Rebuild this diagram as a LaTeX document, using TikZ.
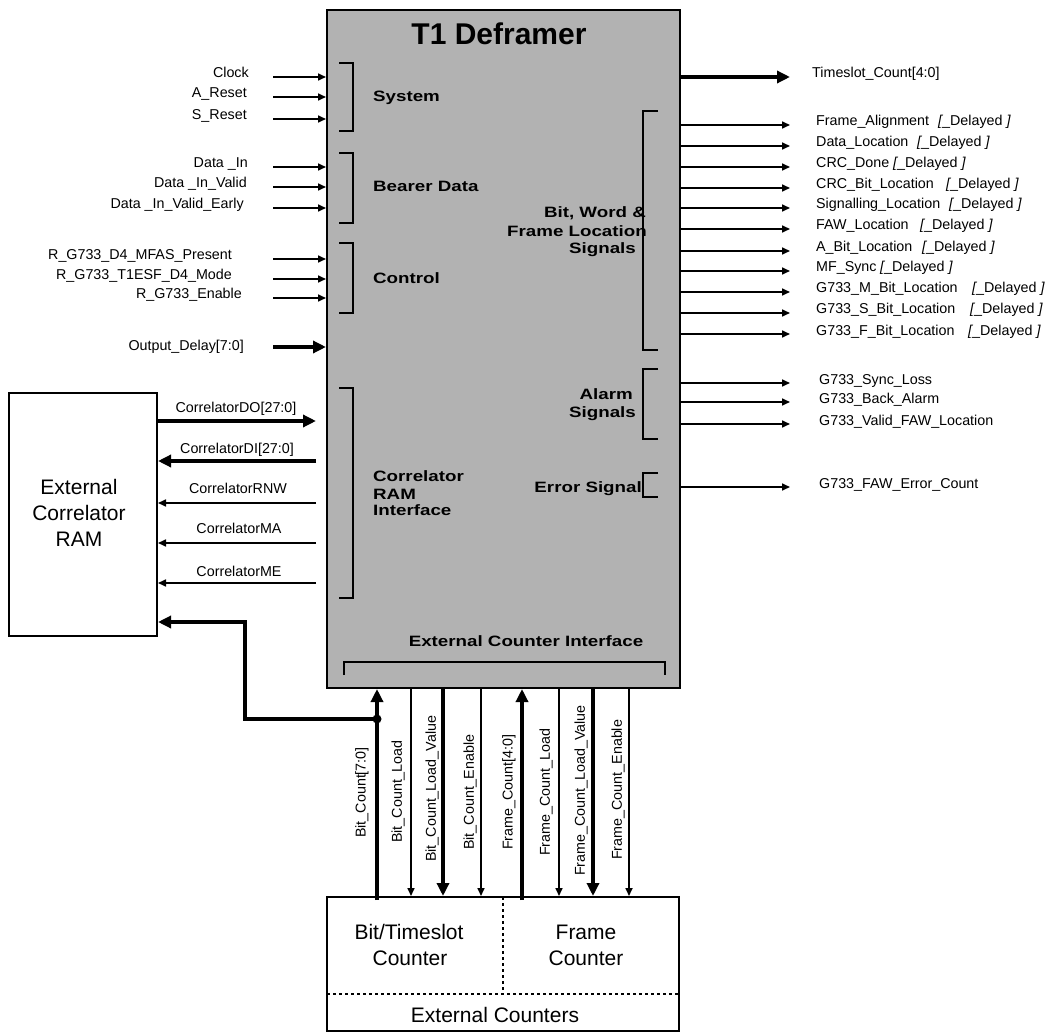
\documentclass[tikz,border=0pt]{standalone}
\usepackage{fontspec}
\setmainfont{Liberation Sans}
\newfontfamily\wideb[FakeStretch=1.25]{Liberation Sans Bold}
\newfontfamily\titlef{Liberation Sans Bold}
\usetikzlibrary{arrows.meta}
\tikzset{
  thinarr/.style={line width=1.6pt, -{Triangle[length=8pt,width=7pt]}},
  thickarr/.style={line width=4pt, -{Triangle[length=13pt,width=12pt]}},
  lbl/.style={font=\fontsize{14.3}{17}\selectfont, inner sep=0pt},
  blbl/.style={font=\wideb\fontsize{15}{17}\selectfont, inner sep=0pt},
  biglbl/.style={font=\fontsize{21}{26}\selectfont, inner sep=0pt},
  brk/.style={line width=2pt},
  boxed/.style={draw, line width=2pt, rectangle, inner sep=0pt},
  dotline/.style={line width=1.3pt, dash pattern=on 3pt off 3pt}
}
\begin{document}
\begin{tikzpicture}[x=1pt,y=-1pt]
\useasboundingbox (0,0) rectangle (1047,1032);
% main block
\node[boxed, fill=black!30, minimum width=353pt, minimum height=678pt] (main) at (503.5,349) {};
\node[font=\titlef\fontsize{30}{34}\selectfont, inner sep=0pt, anchor=base] (title) at (499,45) {T1 Deframer};

% left inputs
\foreach \n/\t/\y/\rx in {clk/Clock/77/249, ares/A\_Reset/97/247, sres/S\_Reset/119/247,
   din/Data \_In/167/248, dinv/Data \_In\_Valid/187/247, dinve/Data \_In\_Valid\_Early/208/244,
   mfas/R\_G733\_D4\_MFAS\_Present/259/232, esf/R\_G733\_T1ESF\_D4\_Mode/279/232, gen/R\_G733\_Enable/298/242} {
  \coordinate (s\n) at (273,\y);
  \node[lbl, anchor=base east] (l\n) at (\rx,\y+1) {\t};
  \draw[thinarr] (s\n) -- (s\n -| main.west);
}
\coordinate (sod) at (273,347);
\node[lbl, anchor=base east] (lod) at (244,350) {Output\_Delay[7:0]};
\draw[thickarr] (sod) -- (sod -| main.west);

% left brackets
\draw[brk] (339,63) -- (353,63) -- (353,131) -- (339,131);
\draw[brk] (339,153) -- (353,153) -- (353,223) -- (339,223);
\draw[brk] (339,243) -- (353,243) -- (353,313) -- (339,313);
\draw[brk] (339,388) -- (353,388) -- (353,598) -- (339,598);
\node[blbl, anchor=base west] (bsys) at (373,101.5) {System};
\node[blbl, anchor=base west] (bbd) at (373,191.5) {Bearer Data};
\node[blbl, anchor=base west] (bctl) at (373,283.5) {Control};
\node[blbl, anchor=base west] (bcr1) at (373,481.5) {Correlator};
\node[blbl, anchor=base west] (bcr2) at (373,499.5) {RAM};
\node[blbl, anchor=base west] (bcr3) at (373,515.5) {Interface};

% right brackets and labels
\draw[brk] (658,111) -- (643,111) -- (643,350) -- (658,350);
\draw[brk] (658,369) -- (643,369) -- (643,439) -- (658,439);
\draw[brk] (658,473) -- (643,473) -- (643,497) -- (658,497);
\node[blbl, anchor=base east] (bw1) at (646,217.5) {Bit, Word \&};
\node[blbl, anchor=base east] (bw2) at (647,236.5) {Frame Location};
\node[blbl, anchor=base east] (bw3) at (636,253.5) {Signals};
\node[blbl, anchor=base east] (ba1) at (633,399.5) {Alarm};
\node[blbl, anchor=base east] (ba2) at (636,417.5) {Signals};
\node[blbl, anchor=base east] (be1) at (642,492.5) {Error Signal};

% right outputs
\coordinate (ots) at (790,77);
\node[lbl, anchor=base west] (lts) at (812,78) {Timeslot\_Count[4:0]};
\draw[thickarr] (ots -| main.east) -- (ots);
\foreach \n/\t/\y/\dx in {fa/Frame\_Alignment/125/938, dl/Data\_Location/146/917, crc/CRC\_Done/167/893,
   cbl/CRC\_Bit\_Location/188/946, sl/Signalling\_Location/208/949, faw/FAW\_Location/229/920,
   abl/A\_Bit\_Location/251/922, mf/MF\_Sync/271/880, mbl/G733\_M\_Bit\_Location/292/972,
   sbl/G733\_S\_Bit\_Location/313/970, fbl/G733\_F\_Bit\_Location/334/968} {
  \coordinate (o\n) at (790,\y);
  \node[lbl, anchor=base west] (l\n) at (816,\y+1) {\t};
  \node[lbl, anchor=base west] (d\n) at (\dx,\y+1) {{\itshape [}\_Delayed {\itshape ]}};
  \draw[thinarr] (o\n -| main.east) -- (o\n);
}
\foreach \n/\t/\y in {syl/G733\_Sync\_Loss/383, bal/G733\_Back\_Alarm/402, vfl/G733\_Valid\_FAW\_Location/424, fec/G733\_FAW\_Error\_Count/487} {
  \coordinate (o\n) at (790,\y);
  \node[lbl, anchor=base west] (l\n) at (819,\y+1) {\t};
  \draw[thinarr] (o\n -| main.east) -- (o\n);
}

% external correlator RAM
\node[boxed, minimum width=148pt, minimum height=243pt] (ram) at (83,514.5) {};
\node[biglbl, anchor=base] (r1) at (79,494.5) {External};
\node[biglbl, anchor=base] (r2) at (79,520.5) {Correlator};
\node[biglbl, anchor=base] (r3) at (79,546.5) {RAM};
\coordinate (cdo) at (316,421);
\coordinate (cdi) at (316,461);
\coordinate (crnw) at (316,503);
\coordinate (cma) at (316,543);
\coordinate (cme) at (316,583);
\draw[thickarr] (cdo -| ram.east) -- (cdo);
\draw[thickarr] (cdi) -- (cdi -| ram.east);
\draw[thinarr] (crnw) -- (crnw -| ram.east);
\draw[thinarr] (cma) -- (cma -| ram.east);
\draw[thinarr] (cme) -- (cme -| ram.east);
\node[lbl, anchor=base] (lcdo) at (236,412) {CorrelatorDO[27:0]};
\node[lbl, anchor=base] (lcdi) at (237,453) {CorrelatorDI[27:0]};
\node[lbl, anchor=base] (lcrnw) at (238,493) {CorrelatorRNW};
\node[lbl, anchor=base] (lcma) at (239,533) {CorrelatorMA};
\node[lbl, anchor=base] (lcme) at (239,576) {CorrelatorME};

% external counter interface
\node[blbl, anchor=base] (eci) at (526,646.5) {External Counter Interface};
\draw[brk] (344,675) -- (344,662) -- (665,662) -- (665,675);

% counters block
\node[boxed, minimum width=352pt, minimum height=134pt] (cnt) at (503,964) {};
\coordinate (dh1) at (327,994);
\coordinate (dh2) at (679,994);
\coordinate (dv1) at (503,897);
\coordinate (dv2) at (503,994);
\draw[dotline] (dh1) -- (dh2);
\draw[dotline] (dv1) -- (dv2);
\node[biglbl, anchor=base] (c1) at (409,939.5) {Bit/Timeslot};
\node[biglbl, anchor=base] (c2) at (410,965.5) {Counter};
\node[biglbl, anchor=base] (c3) at (586,939.5) {Frame};
\node[biglbl, anchor=base] (c4) at (586,965.5) {Counter};
\node[biglbl, anchor=base] (c5) at (495,1022.5) {External Counters};

% vertical counter signals
\coordinate (vbc) at (377,900);
\coordinate (vfc) at (522,900);
\draw[thickarr] (vbc) -- (vbc |- main.south);
\draw[thickarr] (vfc) -- (vfc |- main.south);
\foreach \n/\x/\sty in {bcl/411/thinarr, bclv/443/thickarr, bce/481/thinarr, fcl/559/thinarr, fclv/593/thickarr, fce/629/thinarr} {
  \coordinate (v\n) at (\x,700);
  \draw[\sty] (v\n |- main.south) -- (v\n |- cnt.north);
}
\foreach \n/\t/\x/\yb in {bc/Bit\_Count[7:0]/362/838, bcl/Bit\_Count\_Load/398/843, bclv/Bit\_Count\_Load\_Value/432/862,
   bce/Bit\_Count\_Enable/470/850, fc/Frame\_Count[4:0]/509/850, fcl/Frame\_Count\_Load/546/856,
   fclv/Frame\_Count\_Load\_Value/581/876, fce/Frame\_Count\_Enable/618/860} {
  \node[lbl, rotate=90, anchor=west] (t\n) at (\x,\yb) {\t};
}

% bit count tap to RAM
\coordinate (jn) at (377,719);
\coordinate (jc) at (245,622);
\draw[thickarr] (jn) -| (jc) -- (jc -| ram.east);
\fill (jn) circle (4.5pt);
\end{tikzpicture}
\end{document}
